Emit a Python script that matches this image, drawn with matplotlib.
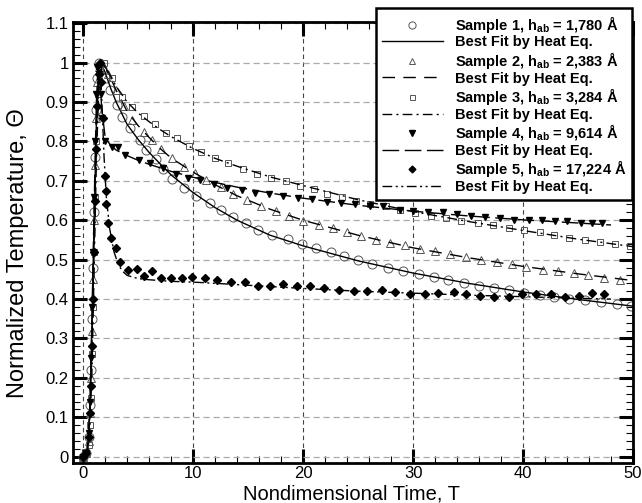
import numpy as np
import matplotlib.pyplot as plt
from matplotlib.ticker import MultipleLocator, FuncFormatter

plt.rcParams['font.family'] = ['Liberation Sans', 'DejaVu Sans']
plt.rcParams['mathtext.fontset'] = 'custom'
plt.rcParams['mathtext.rm'] = 'Liberation Sans:bold'
plt.rcParams['mathtext.it'] = 'Liberation Sans:bold'
plt.rcParams['mathtext.default'] = 'rm'

# sample 1, h_ab = 1,780 A
s1_x = [0, 0.3, 0.5, 0.6, 0.7, 0.8, 0.9, 1.0, 1.1, 1.2, 1.3, 1.45, 1.7, 2.05, 2.45, 3.06, 3.5, 4.27,
        5.2, 5.7, 6.6, 7.3, 8.1, 9.2, 10.3, 11.5, 12.5, 13.6, 14.8, 15.9, 17.2, 18.6, 19.9, 21.2, 22.5,
        23.7, 25.0, 26.3, 27.7, 29.1, 30.5, 31.9, 33.2, 34.6, 36.0, 37.4, 38.7, 40.1, 41.5, 42.8, 44.2,
        45.6, 47.1, 48.5, 49.8]
s1_y = [0, 0.01, 0.05, 0.13, 0.22, 0.35, 0.48, 0.62, 0.76, 0.88, 0.96, 1.0, 0.985, 0.96, 0.93, 0.893,
        0.863, 0.833, 0.804, 0.777, 0.755, 0.73, 0.705, 0.681, 0.662, 0.645, 0.626, 0.609, 0.592, 0.575,
        0.563, 0.553, 0.541, 0.53, 0.519, 0.509, 0.499, 0.489, 0.48, 0.472, 0.464, 0.455, 0.448, 0.442,
        0.434, 0.427, 0.423, 0.416, 0.41, 0.404, 0.40, 0.398, 0.393, 0.388, 0.382]
f1_x = [0, 0.4, 0.6, 0.8, 1.0, 1.2, 1.4, 1.6, 2.0, 2.5, 3, 4, 5, 6, 7, 8, 10, 12, 14, 17, 20, 25, 30,
        35, 40, 45, 50]
f1_y = [0, 0.02, 0.12, 0.33, 0.6, 0.85, 0.98, 1.0, 0.975, 0.935, 0.9, 0.843, 0.805, 0.772, 0.743,
        0.715, 0.67, 0.632, 0.6, 0.562, 0.535, 0.497, 0.466, 0.44, 0.418, 0.399, 0.382]

# sample 2, h_ab = 2,383 A
s2_x = [0, 0.3, 0.5, 0.6, 0.7, 0.8, 0.9, 1.0, 1.1, 1.2, 1.3, 1.45, 1.7, 2.3, 3.0, 3.7, 4.45, 5.5,
        6.3, 7.1, 8.1, 9.2, 10.2, 11.2, 12.5, 13.6, 14.9, 16.2, 17.5, 18.7, 20.0, 21.4, 22.7, 24.0,
        25.3, 26.6, 27.9, 29.3, 30.6, 32.0, 33.4, 34.8, 36.2, 37.6, 39.0, 40.3, 41.8, 43.2, 44.6, 45.9,
        47.4, 48.8]
s2_y = [0, 0.01, 0.04, 0.11, 0.2, 0.32, 0.45, 0.6, 0.74, 0.86, 0.95, 0.99, 1.0, 0.97, 0.93, 0.89,
        0.855, 0.825, 0.804, 0.78, 0.757, 0.736, 0.721, 0.702, 0.684, 0.667, 0.652, 0.635, 0.624, 0.611,
        0.599, 0.589, 0.58, 0.57, 0.561, 0.55, 0.543, 0.537, 0.526, 0.522, 0.514, 0.506, 0.499, 0.495,
        0.488, 0.481, 0.474, 0.47, 0.465, 0.461, 0.453, 0.448]
f2_x = [0, 0.4, 0.6, 0.8, 1.0, 1.2, 1.4, 1.7, 2.0, 2.5, 3, 4, 5, 6, 7, 8, 10, 12, 14, 17, 20, 25, 30,
        35, 40, 45, 50]
f2_y = [0, 0.02, 0.1, 0.3, 0.58, 0.83, 0.96, 1.0, 0.99, 0.96, 0.93, 0.876, 0.84, 0.81, 0.782, 0.758,
        0.722, 0.69, 0.662, 0.628, 0.6, 0.562, 0.53, 0.505, 0.483, 0.464, 0.447]

# sample 3, h_ab = 3,284 A
s3_x = [0, 0.3, 0.5, 0.6, 0.7, 0.8, 0.9, 1.0, 1.1, 1.2, 1.35, 1.5, 1.85, 2.6, 3.5, 4.4, 5.5, 6.5, 7.5,
        8.5, 9.6, 10.7, 12.0, 13.2, 14.5, 15.8, 17.1, 18.4, 19.7, 21.0, 22.2, 23.5, 24.8, 26.1, 27.5,
        28.8, 30.2, 31.6, 33.0, 34.4, 35.9, 37.3, 38.7, 40.1, 41.5, 42.8, 44.2, 45.6, 47.0, 48.4, 49.7]
s3_y = [0, 0.01, 0.03, 0.08, 0.15, 0.26, 0.38, 0.52, 0.66, 0.8, 0.92, 0.98, 1.0, 0.96, 0.912, 0.888,
        0.865, 0.845, 0.822, 0.808, 0.789, 0.774, 0.757, 0.745, 0.73, 0.718, 0.708, 0.70, 0.687, 0.679,
        0.667, 0.658, 0.649, 0.641, 0.635, 0.626, 0.618, 0.612, 0.605, 0.598, 0.592, 0.587, 0.581,
        0.575, 0.569, 0.562, 0.556, 0.551, 0.546, 0.54, 0.535]
f3_x = [0, 0.4, 0.6, 0.8, 1.0, 1.2, 1.4, 1.7, 2.0, 2.5, 3, 4, 5, 6, 7, 8, 10, 12, 14, 17, 20, 25, 30,
        35, 40, 45, 50]
f3_y = [0, 0.01, 0.06, 0.22, 0.48, 0.75, 0.92, 0.995, 0.99, 0.965, 0.94, 0.9, 0.872, 0.85, 0.83,
        0.812, 0.782, 0.757, 0.737, 0.71, 0.688, 0.652, 0.622, 0.597, 0.574, 0.552, 0.533]

# sample 4, h_ab = 9,614 A
s4_x = [0, 0.3, 0.5, 0.6, 0.7, 0.8, 0.9, 1.0, 1.1, 1.2, 1.3, 1.45, 1.6, 1.75, 2.0, 2.6, 3.2, 3.8, 5.1,
        6.1, 7.3, 8.4, 9.5, 10.6, 11.9, 13.1, 14.4, 15.6, 16.9, 18.2, 19.5, 20.8, 22.2, 23.4, 24.7,
        26.1, 27.3, 28.8, 30.0, 31.4, 32.7, 34.0, 35.3, 36.5, 37.9, 39.2, 40.5, 41.7, 42.9, 44.0, 45.3,
        46.3, 47.2]
s4_y = [0, 0.01, 0.06, 0.14, 0.25, 0.38, 0.52, 0.66, 0.8, 0.92, 0.99, 0.97, 0.92, 0.86, 0.8, 0.787,
        0.787, 0.766, 0.753, 0.745, 0.732, 0.718, 0.707, 0.702, 0.691, 0.681, 0.677, 0.67, 0.666, 0.662,
        0.657, 0.653, 0.647, 0.643, 0.641, 0.637, 0.635, 0.626, 0.624, 0.62, 0.62, 0.615, 0.611, 0.607,
        0.605, 0.601, 0.601, 0.601, 0.599, 0.597, 0.594, 0.592, 0.592]
f4_x = [0, 0.4, 0.6, 0.8, 1.0, 1.2, 1.35, 1.5, 1.7, 2.0, 2.5, 3, 4, 5, 6, 8, 10, 12, 14, 17, 20, 25,
        30, 35, 40, 45, 48]
f4_y = [0, 0.02, 0.12, 0.36, 0.64, 0.9, 0.99, 0.96, 0.88, 0.81, 0.79, 0.778, 0.764, 0.752, 0.742,
        0.724, 0.709, 0.696, 0.684, 0.669, 0.656, 0.638, 0.623, 0.611, 0.601, 0.593, 0.588]

# sample 5, h_ab = 17,224 A
s5_x = [0, 0.3, 0.5, 0.6, 0.7, 0.8, 0.9, 1.0, 1.1, 1.2, 1.3, 1.4, 1.5, 1.65, 1.8, 1.97, 2.03, 2.1,
        2.3, 2.5, 2.94, 3.33, 4.06, 4.85, 5.5, 6.27, 7.05, 8.0, 8.97, 9.9, 11.1, 12.15, 13.4, 14.7,
        15.9, 17.0, 18.2, 19.4, 20.6, 21.9, 23.3, 24.6, 25.8, 27.2, 28.4, 29.7, 31.1, 32.3, 33.7, 34.8,
        36.1, 37.4, 38.7, 39.9, 41.2, 42.5, 43.8, 45.1, 46.3, 47.4]
s5_y = [0, 0.01, 0.05, 0.11, 0.18, 0.28, 0.4, 0.52, 0.65, 0.78, 0.89, 0.97, 1.0, 0.95, 0.86, 0.712,
        0.675, 0.64, 0.592, 0.554, 0.529, 0.495, 0.474, 0.476, 0.459, 0.472, 0.453, 0.453, 0.454, 0.455,
        0.453, 0.449, 0.444, 0.443, 0.432, 0.433, 0.438, 0.432, 0.432, 0.427, 0.423, 0.42, 0.421, 0.423,
        0.417, 0.413, 0.412, 0.415, 0.419, 0.412, 0.408, 0.406, 0.406, 0.412, 0.412, 0.412, 0.406,
        0.408, 0.415, 0.412]
f5_x = [0, 0.4, 0.6, 0.8, 1.0, 1.2, 1.4, 1.55, 1.7, 1.9, 2.1, 2.4, 2.8, 3.2, 3.6, 4, 5, 6, 8, 10, 12,
        15, 20, 25, 30, 35, 40, 45, 48]
f5_y = [0, 0.02, 0.1, 0.3, 0.55, 0.8, 0.96, 1.0, 0.9, 0.76, 0.66, 0.58, 0.52, 0.487, 0.47, 0.46,
        0.452, 0.449, 0.445, 0.443, 0.44, 0.435, 0.427, 0.42, 0.415, 0.41, 0.406, 0.402, 0.4]

labels = ['Sample 1, h$_{ab}$ = 1,780 Å', 'Sample 2, h$_{ab}$ = 2,383 Å',
          'Sample 3, h$_{ab}$ = 3,284 Å', 'Sample 4, h$_{ab}$ = 9,614 Å',
          'Sample 5, h$_{ab}$ = 17,224 Å']

fig = plt.figure(figsize=(6.42, 5.03), dpi=100)
ax = fig.add_axes([0.1133, 0.0795, 0.8727, 0.8775])

gray = '#555555'
ax.plot(s1_x, s1_y, ls='none', marker='o', ms=6.5, mfc='none', mec=gray, mew=0.7, label=labels[0])
ax.plot(f1_x, f1_y, color='black', lw=1, ls='-', label='Best Fit by Heat Eq.')
ax.plot(s2_x, s2_y, ls='none', marker='^', ms=5.5, mfc='none', mec=gray, mew=0.7, label=labels[1])
ax.plot(f2_x, f2_y, color='black', lw=1, ls=(0, (9, 6)), label='Best Fit by Heat Eq.')
ax.plot(s3_x, s3_y, ls='none', marker='s', ms=4.5, mfc='none', mec=gray, mew=0.7, label=labels[2])
ax.plot(f3_x, f3_y, color='black', lw=1, ls=(0, (7, 3, 1.5, 3)), label='Best Fit by Heat Eq.')
ax.plot(s4_x, s4_y, ls='none', marker='v', ms=5, mfc='black', mec='black', label=labels[3])
ax.plot(f4_x, f4_y, color='black', lw=1, ls=(0, (12, 4)), label='Best Fit by Heat Eq.')
ax.plot(s5_x, s5_y, ls='none', marker='D', ms=4.3, mfc='black', mec='black', label=labels[4])
ax.plot(f5_x, f5_y, color='black', lw=1, ls=(0, (7, 2.5, 1.5, 2.5, 1.5, 2.5)),
        label='Best Fit by Heat Eq.')

ax.set_xlim(-0.95, 50)
ax.set_ylim(-0.016, 1.104)
ax.xaxis.set_major_locator(MultipleLocator(10))
ax.xaxis.set_minor_locator(MultipleLocator(2))
ax.yaxis.set_major_locator(MultipleLocator(0.1))
ax.yaxis.set_minor_locator(MultipleLocator(0.02))
ax.yaxis.set_major_formatter(FuncFormatter(lambda v, p: ('%.1f' % v).rstrip('0').rstrip('.')))

ax.tick_params(which='both', direction='in', top=True, right=True, labelsize=12)
ax.tick_params(which='major', length=10, width=2.2, pad=3)
ax.tick_params(axis='x', which='major', pad=2)
ax.tick_params(which='minor', length=5, width=0.8)
for s in ax.spines.values():
    s.set_linewidth(2)

ax.grid(True, axis='x', which='major', color='#444444', ls=(0, (4, 3)), lw=0.8)
ax.grid(True, axis='y', which='major', color='#aaaaaa', ls=(0, (5, 3)), lw=0.9)
ax.set_axisbelow(True)

fig.text(0.548, 0.0, 'Nondimensional Time, T', fontsize=14.5, ha='center', va='bottom')
ax.set_ylabel('Normalized Temperature, Θ', fontsize=17)
ax.yaxis.set_label_coords(-0.078, 0.476)

leg = ax.legend(loc='upper right', bbox_to_anchor=(0.998, 1.031),
                prop={'weight': 'bold', 'size': 10.5}, frameon=True, fancybox=False,
                edgecolor='black', framealpha=1, handlelength=4.2, handletextpad=0.8,
                labelspacing=0.04, borderpad=0.4, borderaxespad=0, markerscale=0.8)
leg.get_frame().set_linewidth(1.8)

fig.savefig('out.png', dpi=100)
